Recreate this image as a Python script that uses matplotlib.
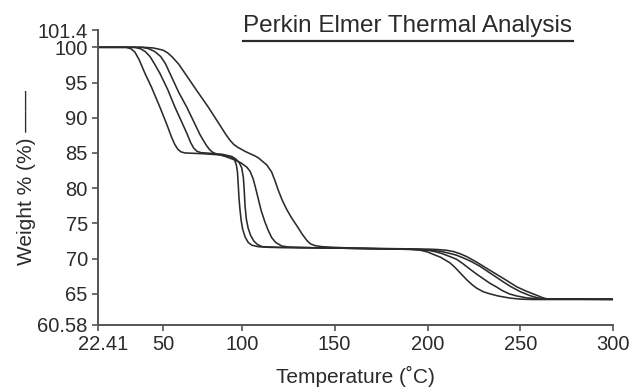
import numpy as np
import matplotlib
matplotlib.use("Agg")
import matplotlib.pyplot as plt
import matplotlib.transforms as mtransforms
from matplotlib.lines import Line2D

# ==============================
# Data
# ==============================

t1 = [22.41, 34.5, 36.5, 38.2, 40.0, 42.4, 45.2, 48.7, 52.5, 55.5, 57.5, 59.5, 61.5, 64.0,
      75.0, 85.0, 90.0, 93.7, 95.5, 96.6, 97.3, 97.8, 98.3, 98.9, 99.6, 100.5, 101.8,
      103.5, 105.5, 108.9, 115.0, 150.0, 190.0, 196.0, 200.0, 203.2, 207.0, 212.1, 215.0,
      217.5, 221.1, 224.0, 226.5, 230.0, 233.6, 238.0, 244.4, 250.0, 257.0, 300.0]
w1 = [100.0, 100.0, 99.8, 99.3, 98.2, 96.3, 94.3, 91.5, 89.0, 87.2, 86.2, 85.5, 85.15, 85.0,
      84.9, 84.75, 84.6, 84.4, 84.0, 83.3, 82.3, 80.5, 78.5, 77.0, 75.5, 74.2, 73.1,
      72.3, 71.9, 71.7, 71.6, 71.5, 71.35, 71.2, 70.95, 70.6, 70.2, 69.4, 68.7,
      68.0, 67.0, 66.3, 65.8, 65.3, 65.0, 64.7, 64.4, 64.25, 64.2, 64.2]

t2 = [22.41, 38.0, 40.5, 42.5, 44.5, 46.5, 48.7, 53.0, 57.6, 62.5, 65.5, 67.5, 69.5, 71.5,
      74.0, 80.0, 88.0, 93.7, 96.5, 98.5, 100.0, 100.9, 101.4, 101.8, 102.5, 103.5, 104.8,
      106.5, 108.5, 111.0, 120.0, 150.0, 195.0, 200.0, 204.0, 208.0, 212.0, 215.7, 219.0,
      222.9, 227.0, 233.6, 237.0, 240.0, 244.0, 248.0, 253.0, 258.8, 300.0]
w2 = [100.0, 100.0, 99.8, 99.4, 98.7, 97.6, 96.3, 94.0, 91.5, 89.1, 87.6, 86.5, 85.7, 85.25,
      85.05, 84.95, 84.8, 84.5, 84.1, 83.6, 82.9, 81.5, 79.5, 77.5, 75.6, 74.3, 73.3,
      72.5, 72.0, 71.7, 71.6, 71.5, 71.3, 71.2, 71.0, 70.7, 70.3, 69.9, 69.3,
      68.5, 67.7, 66.5, 66.0, 65.5, 65.0, 64.7, 64.45, 64.3, 64.2]

t3 = [22.41, 41.0, 44.0, 46.5, 49.0, 51.5, 54.4, 60.0, 65.1, 70.5, 73.5, 75.6, 77.5, 79.5,
      81.5, 84.0, 89.0, 95.7, 99.5, 102.7, 104.5, 106.2, 107.5, 108.9, 110.5, 112.5, 114.3,
      116.1, 118.3, 121.5, 125.0, 130.0, 150.0, 195.0, 202.0, 207.0, 211.0, 215.5, 219.3,
      223.5, 228.3, 234.0, 240.8, 245.0, 250.0, 255.2, 259.0, 262.3, 300.0]
w3 = [100.0, 100.0, 99.8, 99.4, 98.7, 97.7, 96.3, 93.6, 91.5, 89.0, 87.6, 86.8, 86.1, 85.5,
      85.1, 84.85, 84.55, 84.0, 83.6, 83.0, 82.4, 81.3, 80.0, 78.5, 76.8, 75.2, 74.0,
      73.0, 72.3, 71.8, 71.65, 71.6, 71.5, 71.3, 71.2, 71.05, 70.8, 70.5, 70.1,
      69.6, 68.9, 67.9, 66.7, 66.0, 65.3, 64.75, 64.45, 64.3, 64.25]

t4 = [22.41, 42.0, 46.0, 50.0, 53.0, 56.0, 60.0, 64.0, 71.0, 78.8, 86.0, 90.0, 92.6, 95.0,
      97.5, 100.0, 102.0, 104.5, 107.0, 109.0, 110.8, 113.5, 116.1, 118.0, 119.7, 121.8,
      124.2, 126.8, 129.6, 132.5, 135.0, 137.0, 139.5, 143.0, 150.0, 160.0, 200.0, 205.0,
      210.0, 214.0, 217.5, 221.0, 226.5, 232.0, 237.0, 242.0, 248.0, 253.0, 258.8, 262.0,
      264.2, 300.0]
w4 = [100.0, 100.0, 99.9, 99.6, 99.2, 98.6, 97.6, 96.3, 94.0, 91.5, 89.0, 87.6, 86.8, 86.2,
      85.8, 85.5, 85.2, 84.9, 84.6, 84.3, 83.9, 83.3, 82.3, 81.0, 79.7, 78.3,
      77.0, 75.8, 74.7, 73.5, 72.6, 72.1, 71.85, 71.7, 71.6, 71.5, 71.35, 71.3,
      71.2, 71.0, 70.7, 70.3, 69.5, 68.6, 67.8, 67.0, 66.0, 65.4, 64.8, 64.45,
      64.3, 64.25]

x_ticks = [22.41, 50, 100, 150, 200, 250, 300]
y_ticks = [60.58, 65, 70, 75, 80, 85, 90, 95, 100, 101.4]

# the printed axes are not evenly spaced: ticks 50 and 101.4 sit off a linear scale
x_breaks = [22.41, 50, 100, 300]
x_pix = [97.5, 163, 241.7, 613.3]
y_breaks = [60.58, 100, 101.4]
y_pix = [67, 344.7, 362]


def piecewise(src, dst):
    src = np.asarray(src, float)
    dst = np.asarray(dst, float)

    def f(v):
        v = np.asarray(v, float)
        out = np.interp(v, src, dst)
        lo_slope = (dst[1] - dst[0]) / (src[1] - src[0])
        hi_slope = (dst[-1] - dst[-2]) / (src[-1] - src[-2])
        out = np.where(v < src[0], dst[0] + (v - src[0]) * lo_slope, out)
        out = np.where(v > src[-1], dst[-1] + (v - src[-1]) * hi_slope, out)
        return out
    return f


# ==============================
# Plot
# ==============================

plt.rcParams['font.family'] = ['Liberation Sans', 'DejaVu Sans']
ink = '#2b2b2b'

fig = plt.figure(figsize=(6.32, 3.92), dpi=100)
ax = fig.add_axes([97.5 / 632, 1 - 325 / 392, (613.3 - 97.5) / 632, (325 - 30) / 392])

ax.set_xscale('function', functions=(piecewise(x_breaks, x_pix), piecewise(x_pix, x_breaks)))
ax.set_yscale('function', functions=(piecewise(y_breaks, y_pix), piecewise(y_pix, y_breaks)))

for t, w in [(t1, w1), (t2, w2), (t3, w3), (t4, w4)]:
    ax.plot(t, w, color=ink, lw=1.15, solid_joinstyle='round')

ax.set_xlim(22.41, 300)
ax.set_ylim(60.58, 101.4)
ax.set_xticks(x_ticks)
ax.set_xticklabels(['22.41', '50', '100', '150', '200', '250', '300'])
ax.set_yticks(y_ticks)
ax.set_yticklabels(['60.58', '65', '70', '75', '80', '85', '90', '95', '100', '101.4'])
ax.minorticks_off()

for s in ['top', 'right']:
    ax.spines[s].set_visible(False)
for s in ['left', 'bottom']:
    ax.spines[s].set_color('#555555')
    ax.spines[s].set_linewidth(1.4)

ax.tick_params(axis='both', labelsize=14.5, colors='#555555', labelcolor=ink,
               length=4, width=1.2, pad=3)

# nudge the first x label to the right like the reference
lbl = ax.get_xticklabels()[0]
lbl.set_transform(lbl.get_transform() + mtransforms.ScaledTranslation(0.06, 0, fig.dpi_scale_trans))

ax.set_xlabel('Temperature (˚C)', fontsize=15, color=ink, labelpad=9)
ax.set_ylabel('Weight % (%) ——', fontsize=15, color=ink, labelpad=1)

# underlined title
fig.text(243 / 632, 1 - 32 / 392, 'Perkin Elmer Thermal Analysis', fontsize=17.5,
         color=ink, ha='left', va='baseline')
fig.add_artist(Line2D([243 / 632, 573 / 632], [1 - 41 / 392, 1 - 41 / 392],
                      transform=fig.transFigure, color=ink, lw=1.6))

plt.savefig('out.png', dpi=100)
